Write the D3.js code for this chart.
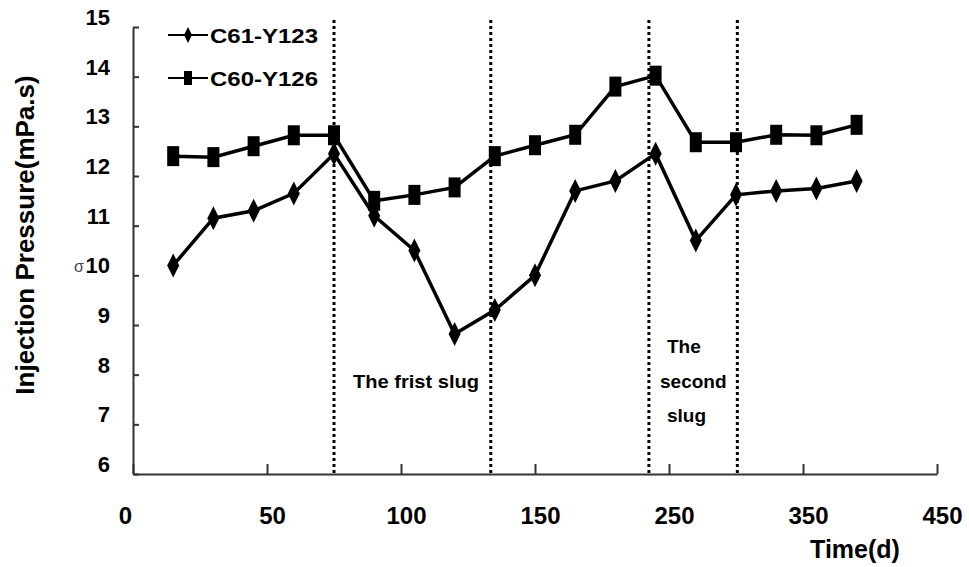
<!DOCTYPE html>
<html>
<head>
<meta charset="utf-8">
<script src="https://cdn.jsdelivr.net/npm/d3@7"></script>
<style>
  body { margin: 0; background: #fff; }
  text { font-family: "Liberation Sans", Arial, sans-serif; font-weight: bold; fill: #000; }
</style>
</head>
<body>
<svg id="chart" width="969" height="567"></svg>
<script>
// time of each measurement (axis runs 0..300 in steps of 50, labelled oddly)
const days = [15, 30, 45, 60, 75, 90, 105, 120, 135, 150, 165, 180, 195, 210, 225, 240, 255, 270];
const c61 = [10.2, 11.15, 11.3, 11.65, 12.45, 11.2, 10.5, 8.82, 9.3, 10.0, 11.7, 11.9, 12.45, 10.7, 11.62, 11.7, 11.75, 11.9];
const c60 = [12.4, 12.38, 12.6, 12.82, 12.82, 11.5, 11.62, 11.77, 12.4, 12.62, 12.83, 13.8, 14.02, 12.68, 12.68, 12.83, 12.82, 13.03];
const xTickValues = [0, 50, 100, 150, 200, 250, 300];
const xTickLabels = ["0", "50", "100", "150", "250", "350", "450"];
const yTickValues = [6, 7, 8, 9, 10, 11, 12, 13, 14, 15];
const slugLines = [75, 133.5, 192.5, 225.5];

const svg = d3.select("#chart");

const x = d3.scaleLinear().domain([0, 300]).range([133, 937]);
const y = d3.scaleLinear().domain([6, 15]).range([474, 27]);

// x axis, ticks pointing up
const xAxis = svg.append("g")
    .attr("transform", "translate(0," + y(6) + ")")
    .call(d3.axisBottom(x)
        .tickValues(xTickValues)
        .tickSizeInner(-10)
        .tickSizeOuter(0)
        .tickPadding(33)
        .tickFormat((d, i) => xTickLabels[i]));
xAxis.selectAll("text").style("font-size", "24px").attr("dx", (d, i) => i === 0 ? -8 : 5);

// y axis, ticks pointing right
const yAxis = svg.append("g")
    .attr("transform", "translate(" + x(0) + ",0)")
    .call(d3.axisLeft(y)
        .tickValues(yTickValues)
        .tickSizeInner(-6)
        .tickSizeOuter(0)
        .tickPadding(23)
        .tickFormat(d3.format("d")));
yAxis.selectAll("text").style("font-size", "22px").attr("dy", "-0.12em");

svg.selectAll(".domain, .tick line").attr("stroke", "#333").attr("stroke-width", 2);

// stray mark next to the 10 label
svg.append("text").attr("x", 74).attr("y", y(10) - 3)
    .style("font-size", "16px").style("font-weight", "normal").style("fill", "#444")
    .text("σ");

// dotted slug boundaries
svg.selectAll(".slug")
    .data(slugLines)
    .enter()
    .append("line")
    .attr("x1", d => x(d)).attr("x2", d => x(d))
    .attr("y1", 20).attr("y2", y(6))
    .attr("stroke", "#000")
    .attr("stroke-width", 3)
    .attr("stroke-dasharray", "3,3");

// series lines
const line = d3.line().x((d, i) => x(days[i])).y(d => y(d));
svg.append("path").datum(c60).attr("d", line)
    .attr("fill", "none").attr("stroke", "#000").attr("stroke-width", 3.5);
svg.append("path").datum(c61).attr("d", line)
    .attr("fill", "none").attr("stroke", "#000").attr("stroke-width", 3.5);

// markers
const diamond = (cx, cy, w, h) => "M" + cx + "," + (cy - h / 2) + "L" + (cx + w / 2) + "," + cy +
    "L" + cx + "," + (cy + h / 2) + "L" + (cx - w / 2) + "," + cy + "Z";

svg.selectAll(".sq")
    .data(c60)
    .enter()
    .append("rect")
    .attr("x", (d, i) => x(days[i]) - 6)
    .attr("y", d => y(d) - 10)
    .attr("width", 12)
    .attr("height", 20)
    .attr("fill", "#000");

svg.selectAll(".dm")
    .data(c61)
    .enter()
    .append("path")
    .attr("d", (d, i) => diamond(x(days[i]), y(d), 12, 24))
    .attr("fill", "#000");

// legend
const legend = [{name: "C61-Y123", y: 35, shape: "diamond"}, {name: "C60-Y126", y: 78, shape: "square"}];
legend.forEach(l => {
    svg.append("line").attr("x1", 168).attr("x2", 208).attr("y1", l.y).attr("y2", l.y)
        .attr("stroke", "#000").attr("stroke-width", 2);
    if (l.shape === "diamond") {
        svg.append("path").attr("d", diamond(188, l.y, 8, 16)).attr("fill", "#000");
    } else {
        svg.append("rect").attr("x", 184).attr("y", l.y - 7).attr("width", 8).attr("height", 14).attr("fill", "#000");
    }
    svg.append("text").attr("x", 210).attr("y", l.y + 8)
        .attr("textLength", 108).attr("lengthAdjust", "spacingAndGlyphs")
        .style("font-size", "21px").text(l.name);
});

// annotations
svg.append("text").attr("x", 353).attr("y", 388)
    .attr("textLength", 126).attr("lengthAdjust", "spacingAndGlyphs")
    .style("font-size", "19px").text("The frist slug");
svg.append("text").attr("x", 667).attr("y", 353).style("font-size", "19px").text("The");
svg.append("text").attr("x", 660).attr("y", 388).style("font-size", "19px").text("second");
svg.append("text").attr("x", 667).attr("y", 422).style("font-size", "19px").text("slug");

// axis titles
svg.append("text").attr("x", 855).attr("y", 558)
    .attr("text-anchor", "middle").style("font-size", "25px").text("Time(d)");
svg.append("text")
    .attr("transform", "translate(34,235) rotate(-90)")
    .attr("text-anchor", "middle").style("font-size", "26px")
    .text("Injection Pressure(mPa.s)");
</script>
</body>
</html>
